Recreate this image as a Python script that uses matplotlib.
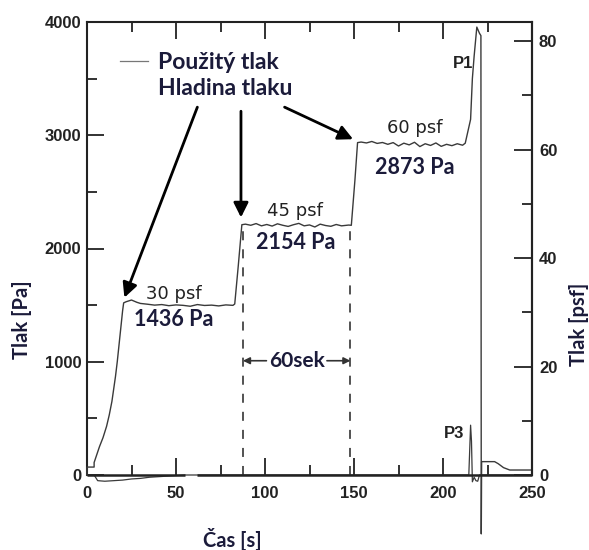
import matplotlib.pyplot as plt
from matplotlib.lines import Line2D
from matplotlib.ticker import MultipleLocator

PA_PER_PSF = 47.88
TEXT_DARK = "#1b1b3a"
TRACE = "#3a3a3a"

# applied pressure trace (P1)
time_applied = [0, 0, 4, 4, 7, 9, 11, 12.5, 14, 15, 16, 17, 18, 19, 20, 20.6, 22, 25, 28,
                30, 34, 38, 42, 46, 50, 54, 58, 62, 66, 70, 74, 78, 82,
                83, 85, 87,
                89, 92, 95, 98, 101, 104, 107, 110, 113, 116, 119, 122, 125, 128, 131, 134,
                137, 140, 143, 147,
                148.5, 150.5, 152,
                154, 157, 160, 163, 166, 169, 172, 175, 178, 181, 184, 187, 190, 193, 196,
                199, 202, 205, 208, 211,
                212.5, 215.5, 216.5, 217.5, 219, 220.5, 221.3, 221.5, 221.7, 229, 231, 234,
                237.5, 250]
pa_applied = [0, 70, 70, 110, 250, 330, 430, 530, 650, 760, 870, 1000, 1150, 1300, 1450,
              1520, 1530, 1545, 1525,
              1515, 1508, 1500, 1505, 1495, 1502, 1498, 1490, 1505, 1497, 1500, 1493, 1502,
              1498,
              1510, 1850, 2210,
              2215, 2205, 2220, 2200, 2212, 2198, 2218, 2205, 2195, 2210, 2222, 2200, 2208,
              2190, 2215, 2203, 2196, 2212, 2200, 2207,
              2205, 2600, 2935,
              2940, 2932, 2945, 2928, 2936, 2920, 2935, 2905, 2930, 2915, 2938, 2900, 2925,
              2910, 2932, 2902, 2920, 2908, 2925, 2912,
              2930, 3140, 3500, 3700, 3955, 3900, 3880, -520, 118, 118, 100, 65, 44, 44]

# second channel near zero with the P3 spike
time_p3 = [0, 4, 6, 10, 15, 20, 25, 30, 35, 40, 45, 50, 55, 100, 150, 200, 214.5, 215.5,
           216, 216.5, 217.5, 218.5, 219.5, 220.5, 225, 250]
pa_p3 = [0, 0, -50, -55, -50, -45, -35, -30, -20, -15, -10, -5, 0, 0, 0, 0, 0, 440, 300,
         -60, -20, -50, -55, 0, 0, 0]

step_psf_labels = ["30 psf", "45 psf", "60 psf"]
step_pa_labels = ["1436 Pa", "2154 Pa", "2873 Pa"]
step_label_t = [48.5, 117, 184]
psf_label_y = [1595, 2330, 3065]
pa_label_y = [1372, 2053, 2717]

# arrows from "Hladina tlaku" to the start of each step
arrow_tails = [(62, 3248), (86.5, 3212), (111, 3248)]
arrow_tips = [(21, 1566), (86.5, 2274), (149.5, 2965)]

interval_t = [87.6, 148]
interval_top = 2200
axis_break = (55, 62)

fig = plt.figure(figsize=(5.89, 5.5), dpi=100)
ax = fig.add_axes([87 / 589, 1 - 475 / 550, 445 / 589, 453 / 550])

ax.plot(time_p3, pa_p3, color=TRACE, lw=0.9, clip_on=False, zorder=3)
ax.plot(time_applied, pa_applied, color=TRACE, lw=1.0, clip_on=False, zorder=3)

ax.vlines(interval_t, 0, interval_top, colors="#444444", lw=1.3,
          linestyles=(0, (5, 5)), zorder=2)

ax.set_xlim(0, 250)
ax.set_ylim(0, 4000)

for s in ax.spines.values():
    s.set_linewidth(1.5)
    s.set_color("#222222")
ax.spines["bottom"].set_visible(False)
ax.plot([0, axis_break[0]], [0, 0], color="#222222", lw=1.8, clip_on=False,
        solid_capstyle="butt", zorder=4)
ax.plot([axis_break[1], 250], [0, 0], color="#222222", lw=1.8, clip_on=False,
        solid_capstyle="butt", zorder=4)

ax.xaxis.set_major_locator(MultipleLocator(50))
ax.xaxis.set_minor_locator(MultipleLocator(25))
ax.yaxis.set_major_locator(MultipleLocator(1000))
ax.yaxis.set_minor_locator(MultipleLocator(500))
ax.tick_params(which="both", direction="in", top=True, width=1.3, color="#222222")
ax.tick_params(which="major", length=12)
ax.tick_params(which="minor", length=7)
ax.tick_params(axis="x", pad=8)
ax.tick_params(axis="y", pad=4)
for lab in ax.get_xticklabels() + ax.get_yticklabels():
    lab.set_fontfamily("Liberation Sans")
    lab.set_fontweight("bold")
    lab.set_fontsize(12)
    lab.set_color("#222222")

ax2 = ax.twinx()
ax2.set_ylim(0, 4000 / PA_PER_PSF)
for side in ["bottom", "top", "left"]:
    ax2.spines[side].set_visible(False)
ax2.spines["right"].set_linewidth(1.5)
ax2.spines["right"].set_color("#222222")
ax2.yaxis.set_major_locator(MultipleLocator(20))
ax2.yaxis.set_minor_locator(MultipleLocator(10))
ax2.tick_params(which="both", direction="in", width=1.3, color="#222222", pad=5)
ax2.tick_params(which="major", length=13)
ax2.tick_params(which="minor", length=7)
for lab in ax2.get_yticklabels():
    lab.set_fontfamily("Liberation Sans")
    lab.set_fontweight("bold")
    lab.set_fontsize(12)
    lab.set_color("#222222")

label_font = dict(family="Lato", weight="bold", size=14.5, color=TEXT_DARK)
ax.set_ylabel("Tlak [Pa]", **label_font)
ax.yaxis.set_label_coords(-0.124, 0.342)
ax2.set_ylabel("Tlak [psf]", **label_font)
ax2.yaxis.set_label_coords(1.083, 0.333)
ax.set_xlabel("Čas [s]", **label_font)
ax.xaxis.set_label_coords(0.327, -0.118)

for t, y1, y2, l1, l2 in zip(step_label_t, psf_label_y, pa_label_y,
                             step_psf_labels, step_pa_labels):
    ax.text(t, y1, l1, ha="center", va="center", family="DejaVu Sans",
            fontsize=13, color="#222222", zorder=5)
    ax.text(t, y2, l2, ha="center", va="center", family="Lato", weight="bold",
            fontsize=15.5, color=TEXT_DARK, zorder=5)

ax.text(211, 3630, "P1", ha="center", va="center", family="Liberation Sans",
        weight="bold", fontsize=12, color="#222222")
ax.text(206, 365, "P3", ha="center", va="center", family="Liberation Sans",
        weight="bold", fontsize=12, color="#222222")

for tail, tip in zip(arrow_tails, arrow_tips):
    ax.annotate("", xy=tip, xytext=tail,
                arrowprops=dict(arrowstyle="-|>", color="black", lw=2,
                                mutation_scale=22, shrinkA=0, shrinkB=0))

mid_t = sum(interval_t) / 2
ax.text(mid_t, 1009, "60sek", ha="center", va="center", family="Lato",
        weight="bold", fontsize=15, color=TEXT_DARK)
ax.annotate("", xy=(interval_t[0], 1009), xytext=(mid_t - 17, 1009),
            arrowprops=dict(arrowstyle="-|>", color="#333333", lw=1.2,
                            mutation_scale=10, shrinkA=0, shrinkB=0))
ax.annotate("", xy=(interval_t[1], 1009), xytext=(mid_t + 17, 1009),
            arrowprops=dict(arrowstyle="-|>", color="#333333", lw=1.2,
                            mutation_scale=10, shrinkA=0, shrinkB=0))

handles = [Line2D([], [], color="#777777", lw=0.9),
           Line2D([], [], color="none")]
leg = ax.legend(handles, ["Použitý tlak", "Hladina tlaku"], loc="upper left",
                bbox_to_anchor=(120 / 589, 1 - 52 / 550), bbox_transform=fig.transFigure,
                frameon=False, borderpad=0, borderaxespad=0, handlelength=1.22,
                handletextpad=0.43, labelspacing=0.2,
                prop=dict(family="Lato", weight="bold", size=16.5))
for txt in leg.get_texts():
    txt.set_color(TEXT_DARK)

fig.savefig("out.png", facecolor="white")
